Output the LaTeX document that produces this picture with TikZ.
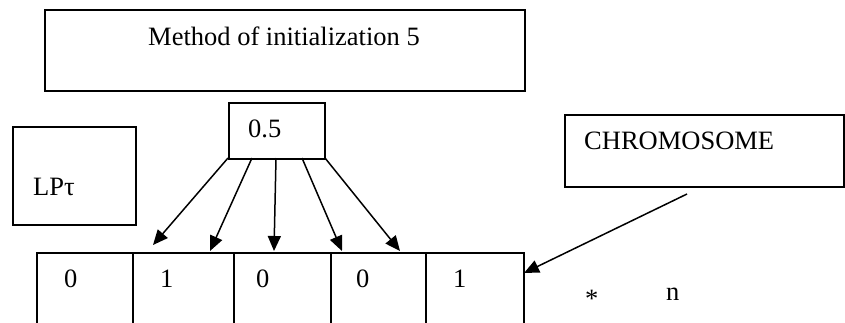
\documentclass[tikz,border=0pt]{standalone}
\usepackage{fontspec}
\setmainfont{Liberation Serif}
\usetikzlibrary{arrows.meta,calc}
\begin{document}
\begin{tikzpicture}[x=1pt,y=-1pt,
  box/.style={draw,line width=1.6pt,inner sep=0pt,anchor=north west},
  txt/.style={anchor=base west,inner sep=0pt,font=\fontsize{26.5}{30}\selectfont},
  arr/.style={line width=1.5pt,-{Triangle[length=15pt,width=13pt]}}]
\useasboundingbox (0,0) rectangle (845,322);
\fill[white] (0,0) rectangle (845,322);
% boxes
\node[box,minimum width=480pt,minimum height=81pt] (method) at (44,9) {};
\node[box,minimum width=96pt,minimum height=56pt] (half) at (228,102) {};
\node[box,minimum width=123pt,minimum height=98pt] (lp) at (12,126) {};
\node[box,minimum width=279pt,minimum height=72pt] (chrom) at (564,114) {};
% cells (open at the bottom of the picture)
\node[box,minimum width=96pt,minimum height=100pt] (c1) at (36,252) {};
\node[box,minimum width=101pt,minimum height=100pt] (c2) at (132,252) {};
\node[box,minimum width=97pt,minimum height=100pt] (c3) at (233,252) {};
\node[box,minimum width=95pt,minimum height=100pt] (c4) at (330,252) {};
\node[box,minimum width=98pt,minimum height=100pt] (c5) at (425,252) {};
% texts
\node[txt] (tmethod) at (148,45) {Method of initialization 5};
\node[txt] (thalf) at (248,137) {0.5};
\node[txt] (tlp) at (33,195) {LPτ};
\node[txt] (tchrom) at (584,149) {CHROMOSOME};
\node[txt] (t1) at (64,287) {0};
\node[txt] (t2) at (160,287) {1};
\node[txt] (t3) at (256,287) {0};
\node[txt] (t4) at (356,287) {0};
\node[txt] (t5) at (453,287) {1};
\node[txt] (tstar) at (585,307) {*};
\node[txt] (tn) at (666,300) {n};
% arrow endpoints
\coordinate (s1) at (228,158); \coordinate (e1) at (153,245);
\coordinate (s2) at (252,158); \coordinate (e2) at (210,251);
\coordinate (s3) at (276,158); \coordinate (e3) at (274,251);
\coordinate (s4) at (302,158); \coordinate (e4) at (342,251);
\coordinate (s5) at (325,158); \coordinate (e5) at (400,251);
\coordinate (sc) at (687,194); \coordinate (ec) at (524,273);
\draw[arr] (s1) -- (e1);
\draw[arr] (s2) -- (e2);
\draw[arr] (s3) -- (e3);
\draw[arr] (s4) -- (e4);
\draw[arr] (s5) -- (e5);
\draw[arr] (sc) -- (ec);
\end{tikzpicture}
\end{document}
